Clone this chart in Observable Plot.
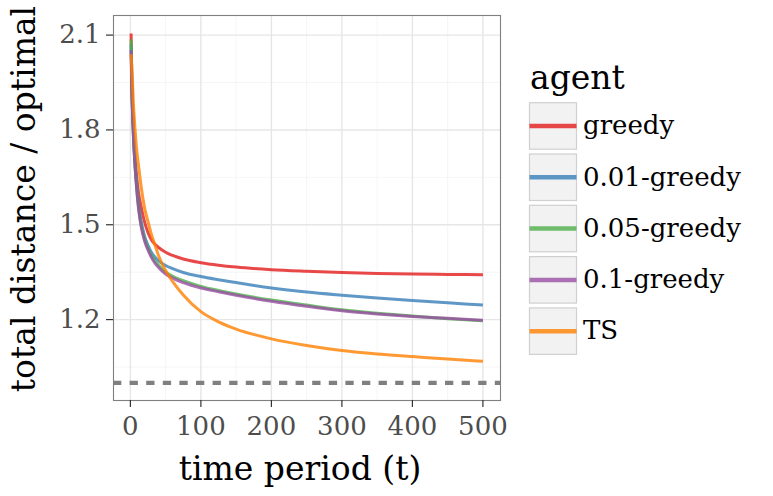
<!DOCTYPE html>
<html>
<head>
<meta charset="utf-8">
<script src="https://cdn.jsdelivr.net/npm/d3@7"></script>
<script src="https://cdn.jsdelivr.net/npm/@observablehq/plot@0.6"></script>
<style>
html, body { margin: 0; padding: 0; background: white; }
</style>
</head>
<body>
<div id="chart"></div>
<script>
const agents = ["greedy", "0.01-greedy", "0.05-greedy", "0.1-greedy", "TS"];
const colors = ["#e41a1c", "#377eb8", "#4daf4a", "#984ea3", "#ff7f00"];
const timePeriods = [1, 2, 3, 4, 5, 6, 8, 10, 12, 15, 20, 25, 30, 35, 40, 50, 60, 75, 100, 125, 150, 200, 250, 300, 350, 400, 450, 500];
const greedy   = [2.105, 1.96, 1.88, 1.82, 1.775, 1.735, 1.675, 1.63, 1.595, 1.56, 1.51, 1.475, 1.452, 1.438, 1.428, 1.413, 1.403, 1.3915, 1.380, 1.372, 1.366, 1.358, 1.353, 1.349, 1.346, 1.344, 1.343, 1.342];
const greedy01 = [2.07, 1.94, 1.865, 1.805, 1.755, 1.715, 1.65, 1.60, 1.56, 1.515, 1.465, 1.435, 1.412, 1.397, 1.386, 1.371, 1.361, 1.349, 1.336, 1.326, 1.317, 1.300, 1.287, 1.277, 1.268, 1.260, 1.253, 1.246];
const greedy05 = [2.086, 1.935, 1.86, 1.80, 1.75, 1.71, 1.645, 1.59, 1.548, 1.503, 1.455, 1.425, 1.402, 1.385, 1.372, 1.350, 1.337, 1.323, 1.305, 1.292, 1.281, 1.262, 1.246, 1.231, 1.220, 1.211, 1.203, 1.196];
const greedy10 = [2.052, 1.93, 1.855, 1.795, 1.745, 1.705, 1.64, 1.585, 1.543, 1.498, 1.45, 1.42, 1.396, 1.378, 1.365, 1.344, 1.331, 1.317, 1.300, 1.288, 1.277, 1.258, 1.242, 1.228, 1.218, 1.210, 1.204, 1.198];
const ts       = [2.04, 2.0, 1.95, 1.895, 1.855, 1.82, 1.76, 1.715, 1.68, 1.625, 1.555, 1.51, 1.468, 1.435, 1.402, 1.355, 1.32, 1.278, 1.225, 1.193, 1.17, 1.139, 1.118, 1.102, 1.091, 1.083, 1.075, 1.068];
const optimalRatio = [1.0];
const xTicks = [0, 100, 200, 300, 400, 500];
const xMinor = [50, 150, 250, 350, 450];
const yTicks = [1.2, 1.5, 1.8, 2.1];
const yMinor = [1.05, 1.35, 1.65, 1.95];
const xTitle = "time period (t)";
const yTitle = "total distance / optimal";
const legendTitle = "agent";

const seriesValues = [greedy, greedy01, greedy05, greedy10, ts];
const rows = [];
agents.forEach((a, i) => {
  seriesValues[i].forEach((v, j) => rows.push({agent: a, t: timePeriods[j], v}));
});

const font = "DejaVu Serif";
const chart = Plot.plot({
  width: 773,
  height: 496,
  marginLeft: 113,
  marginRight: 273,
  marginTop: 15,
  marginBottom: 96,
  style: {fontFamily: font, background: "white"},
  x: {domain: [-23.95, 524.95]},
  y: {domain: [0.944, 2.162]},
  color: {domain: agents, range: colors},
  marks: [
    Plot.gridX(xMinor, {stroke: "#f3f3f3", strokeOpacity: 1, strokeWidth: 0.8}),
    Plot.gridY(yMinor, {stroke: "#f3f3f3", strokeOpacity: 1, strokeWidth: 0.8}),
    Plot.gridX(xTicks, {stroke: "#e6e6e6", strokeOpacity: 1, strokeWidth: 1.4}),
    Plot.gridY(yTicks, {stroke: "#e6e6e6", strokeOpacity: 1, strokeWidth: 1.4}),
    Plot.ruleY(optimalRatio, {stroke: "#7f7f7f", strokeWidth: 4.3, strokeDasharray: "8.3,8.3"}),
    Plot.line(rows, {x: "t", y: "v", z: "agent", stroke: "agent", strokeWidth: 3, strokeOpacity: 0.8, strokeLinecap: "butt", curve: "monotone-x"}),
    Plot.frame({stroke: "#7f7f7f", strokeWidth: 1.1}),
    Plot.axisX({ticks: xTicks, tickSize: 7, tickPadding: 9, fontSize: 26, stroke: "#333333", strokeWidth: 1.2, label: null, tickFormat: d => String(d)}),
    Plot.axisY({ticks: yTicks, tickSize: 7, tickPadding: 6, fontSize: 26, stroke: "#333333", strokeWidth: 1.2, label: null, tickFormat: d => d.toFixed(1)})
  ]
});
document.getElementById("chart").appendChild(chart);

const svg = d3.select(chart);
svg.selectAll('[aria-label="x-axis tick label"], [aria-label="y-axis tick label"]')
  .attr("fill", "#4d4d4d");
svg.selectAll('[aria-label="x-axis tick label"] text, [aria-label="y-axis tick label"] text')
  .attr("fill", "#4d4d4d");

// axis titles
svg.append("text")
  .attr("x", 300).attr("y", 480)
  .attr("text-anchor", "middle")
  .attr("font-family", font).attr("font-size", 33).attr("fill", "black")
  .text(xTitle);
svg.append("text")
  .attr("transform", "translate(35,199) rotate(-90)")
  .attr("text-anchor", "middle")
  .attr("font-family", font).attr("font-size", 33).attr("fill", "black")
  .text(yTitle);

// legend
const lg = svg.append("g").attr("text-anchor", "start");
lg.append("text")
  .attr("x", 530).attr("y", 89)
  .attr("text-anchor", "start")
  .attr("font-family", font).attr("font-size", 33).attr("fill", "black")
  .text(legendTitle);
agents.forEach((a, i) => {
  const top = 102.7 + i * 51.3;
  lg.append("rect")
    .attr("x", 529.5).attr("y", top).attr("width", 47).attr("height", 46.5)
    .attr("fill", "#f2f2f2").attr("stroke", "#d0d0d0").attr("stroke-width", 1.2);
  lg.append("line")
    .attr("x1", 529.5).attr("x2", 576.5)
    .attr("y1", top + 23.3).attr("y2", top + 23.3)
    .attr("stroke", colors[i]).attr("stroke-opacity", 0.8).attr("stroke-width", 4.5);
  lg.append("text")
    .attr("x", 583).attr("y", top + 31.5)
    .attr("text-anchor", "start")
    .attr("font-family", font).attr("font-size", 26).attr("fill", "black")
    .text(a);
});
</script>
</body>
</html>
